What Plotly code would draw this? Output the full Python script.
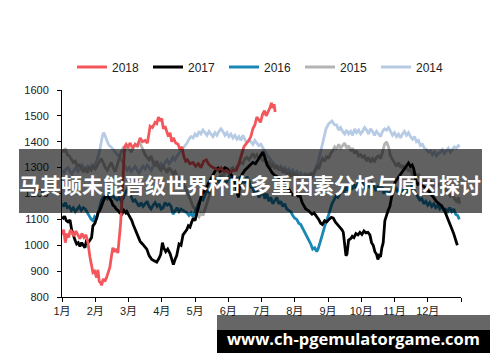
import plotly.graph_objects as go

# ---------------- data (month position, index value) ----------------
month_ticks = [1, 2, 3, 4, 5, 6, 7, 8, 9, 10, 11, 12, 13]
month_labels = ["1月", "2月", "3月", "4月", "5月", "6月", "7月", "8月", "9月", "10月", "11月", "12月", ""]

x2018 = [1.00,1.05,1.10,1.15,1.20,1.25,1.30,1.36,1.42,1.48,1.54,1.60,1.66,1.72,1.78,1.84,1.89,1.93,1.98,2.04,2.08,2.12,2.16,2.19,2.24,2.29,2.34,2.39,2.44,2.49,2.53,2.58,2.63,2.68,2.72,2.76,2.80,2.84,2.88,2.93,2.98,3.05,3.12,3.20,3.27,3.35,3.42,3.50,3.57,3.65,3.72,3.80,3.85,3.90,3.95,4.00,4.05,4.10,4.15,4.20,4.25,4.30,4.35,4.42,4.49,4.55,4.61,4.66,4.72,4.77,4.85,4.94,5.02,5.10,5.18,5.26,5.34,5.40,5.48,5.55,5.62,5.70,5.78,5.86,5.95,6.05,6.15,6.25,6.33,6.40,6.47,6.55,6.62,6.68,6.74,6.80,6.86,6.92,6.97,7.03,7.09,7.14,7.20,7.25,7.30,7.34,7.38,7.41]
y2018 = [1040,1060,1010,1045,1030,1060,1050,1035,1055,1040,1025,1045,1030,1040,1010,955,920,895,900,875,905,860,855,845,870,860,875,900,915,960,990,975,985,970,1020,1080,1165,1280,1380,1390,1380,1395,1375,1390,1385,1415,1400,1405,1395,1460,1455,1475,1470,1495,1480,1490,1450,1460,1440,1420,1435,1400,1415,1395,1390,1370,1380,1345,1325,1330,1315,1320,1305,1315,1300,1325,1330,1315,1305,1300,1295,1290,1300,1285,1290,1280,1290,1290,1320,1350,1380,1395,1405,1420,1450,1465,1495,1485,1475,1505,1520,1500,1515,1530,1550,1530,1545,1515]

x2017 = [1.00,1.04,1.08,1.13,1.18,1.24,1.29,1.34,1.39,1.44,1.49,1.54,1.59,1.64,1.69,1.73,1.78,1.84,1.89,1.93,1.99,2.04,2.08,2.14,2.19,2.24,2.29,2.34,2.40,2.44,2.49,2.53,2.58,2.63,2.68,2.74,2.80,2.86,2.92,2.95,3.00,3.05,3.10,3.14,3.20,3.27,3.35,3.42,3.48,3.55,3.62,3.70,3.77,3.85,3.92,3.97,4.02,4.06,4.12,4.18,4.25,4.30,4.35,4.40,4.45,4.52,4.58,4.64,4.70,4.75,4.80,4.85,4.90,4.95,5.00,5.05,5.10,5.15,5.20,5.25,5.32,5.39,5.45,5.50,5.55,5.62,5.69,5.75,5.82,5.90,5.97,6.05,6.12,6.20,6.27,6.31,6.35,6.42,6.50,6.58,6.66,6.74,6.82,6.90,6.98,7.04,7.10,7.17,7.25,7.32,7.40,7.48,7.56,7.62,7.70,7.76,7.83,7.90,7.95,8.02,8.10,8.16,8.22,8.28,8.33,8.40,8.46,8.52,8.58,8.66,8.72,8.78,8.83,8.90,8.96,9.03,9.10,9.16,9.22,9.30,9.36,9.42,9.46,9.50,9.54,9.57,9.62,9.68,9.73,9.78,9.84,9.90,9.96,10.02,10.08,10.14,10.20,10.26,10.31,10.36,10.41,10.46,10.50,10.54,10.58,10.62,10.66,10.71,10.76,10.81,10.86,10.92,10.97,11.02,11.10,11.17,11.25,11.32,11.38,11.42,11.48,11.53,11.58,11.64,11.70,11.76,11.82,11.90,11.97,12.05,12.12,12.20,12.27,12.35,12.42,12.50,12.57,12.64,12.72,12.78,12.82,12.86,12.89]
y2017 = [1110,1105,1112,1095,1090,1098,1060,1035,1020,1005,1010,995,1010,1000,990,1015,1010,1020,1030,1075,1085,1105,1125,1135,1155,1170,1185,1195,1185,1180,1170,1155,1150,1140,1135,1125,1120,1135,1125,1130,1120,1105,1095,1080,1060,1040,1015,1005,995,985,960,945,940,935,950,965,1010,990,975,985,968,950,925,945,960,1005,1000,1040,1050,1060,1075,1070,1090,1105,1095,1120,1150,1165,1195,1205,1215,1235,1250,1260,1272,1290,1298,1285,1290,1300,1295,1280,1270,1250,1200,1185,1250,1275,1290,1300,1310,1320,1315,1330,1345,1360,1340,1310,1295,1280,1270,1265,1255,1250,1240,1230,1215,1200,1195,1200,1190,1192,1165,1150,1140,1135,1128,1120,1125,1112,1100,1085,1080,1095,1090,1100,1108,1105,1090,1078,1070,1060,1050,1000,960,965,1020,1025,1035,1030,1045,1040,1050,1042,1055,1048,1050,1040,1010,1000,975,965,945,960,955,990,1010,1095,1120,1135,1150,1195,1225,1245,1260,1270,1285,1300,1310,1318,1305,1310,1295,1250,1235,1240,1232,1225,1218,1205,1195,1180,1168,1160,1152,1135,1115,1090,1065,1045,1025,1010,1000]

x2016 = [1.00,1.05,1.10,1.16,1.22,1.28,1.34,1.40,1.46,1.52,1.58,1.64,1.70,1.76,1.82,1.88,1.93,1.98,2.04,2.09,2.14,2.19,2.24,2.30,2.36,2.42,2.48,2.54,2.60,2.66,2.72,2.78,2.84,2.90,2.96,3.02,3.08,3.14,3.20,3.26,3.32,3.38,3.44,3.50,3.56,3.62,3.68,3.74,3.80,3.86,3.92,3.98,4.04,4.10,4.16,4.22,4.28,4.34,4.40,4.46,4.52,4.58,4.64,4.70,4.76,4.82,4.88,4.94,5.00,5.06,5.12,5.18,5.24,5.30,5.36,5.42,5.48,5.54,5.60,5.66,5.72,5.78,5.84,5.90,5.96,6.02,6.08,6.14,6.20,6.26,6.32,6.38,6.44,6.50,6.56,6.62,6.68,6.74,6.80,6.86,6.92,6.98,7.04,7.10,7.16,7.22,7.28,7.34,7.40,7.46,7.52,7.58,7.64,7.70,7.76,7.82,7.88,7.94,8.00,8.06,8.12,8.18,8.24,8.30,8.36,8.42,8.48,8.54,8.60,8.66,8.70,8.76,8.82,8.88,8.94,9.00,9.06,9.12,9.18,9.24,9.30,9.36,9.42,9.48,9.54,9.60,9.66,9.72,9.78,9.84,9.90,9.96,10.02,10.08,10.14,10.20,10.26,10.32,10.38,10.44,10.50,10.56,10.62,10.68,10.74,10.80,10.86,10.92,10.98,11.04,11.10,11.16,11.22,11.28,11.34,11.40,11.46,11.52,11.58,11.64,11.70,11.76,11.82,11.88,11.94,12.00,12.06,12.12,12.18,12.24,12.30,12.36,12.42,12.48,12.54,12.60,12.66,12.72,12.78,12.84,12.90,12.95]
y2016 = [1160,1150,1165,1145,1150,1135,1145,1130,1140,1150,1135,1145,1140,1125,1110,1100,1095,1110,1100,1130,1150,1175,1185,1190,1180,1195,1185,1190,1180,1175,1185,1170,1180,1200,1215,1205,1185,1170,1175,1160,1150,1165,1150,1160,1170,1150,1140,1155,1165,1150,1160,1140,1145,1165,1155,1160,1150,1120,1135,1145,1130,1140,1135,1130,1125,1115,1125,1110,1130,1150,1165,1180,1175,1195,1210,1205,1225,1235,1230,1250,1245,1260,1255,1240,1245,1265,1260,1250,1270,1255,1260,1235,1250,1240,1265,1250,1225,1220,1200,1210,1185,1195,1210,1180,1200,1170,1185,1160,1175,1185,1160,1170,1150,1160,1140,1135,1130,1115,1105,1100,1085,1080,1065,1050,1040,1020,1005,985,990,975,985,1010,1040,1065,1090,1110,1140,1160,1175,1190,1185,1200,1215,1205,1225,1210,1230,1215,1235,1220,1240,1225,1245,1230,1215,1235,1225,1240,1230,1210,1230,1215,1225,1200,1215,1195,1205,1190,1210,1225,1205,1215,1195,1215,1200,1220,1205,1230,1215,1200,1185,1175,1180,1160,1170,1155,1165,1150,1160,1145,1155,1140,1150,1135,1140,1130,1145,1130,1140,1120,1115,1100]

x2015 = [1.00,1.05,1.10,1.16,1.22,1.28,1.34,1.40,1.46,1.52,1.58,1.64,1.70,1.76,1.82,1.88,1.94,2.00,2.06,2.12,2.18,2.24,2.30,2.36,2.42,2.48,2.54,2.60,2.66,2.72,2.78,2.84,2.90,2.96,3.02,3.08,3.14,3.20,3.26,3.32,3.38,3.44,3.50,3.56,3.62,3.68,3.74,3.80,3.86,3.92,3.98,4.04,4.10,4.16,4.22,4.28,4.34,4.40,4.46,4.52,4.58,4.64,4.70,4.76,4.82,4.88,4.94,5.00,5.06,5.12,5.18,5.24,5.30,5.36,5.42,5.48,5.54,5.60,5.66,5.72,5.78,5.84,5.90,5.96,6.02,6.08,6.14,6.20,6.26,6.32,6.38,6.44,6.50,6.56,6.62,6.68,6.74,6.80,6.86,6.92,6.98,7.04,7.10,7.16,7.22,7.28,7.34,7.40,7.46,7.52,7.58,7.64,7.70,7.76,7.82,7.88,7.94,8.00,8.06,8.12,8.18,8.24,8.30,8.36,8.42,8.48,8.54,8.60,8.66,8.72,8.78,8.84,8.90,8.96,9.02,9.08,9.14,9.20,9.26,9.32,9.38,9.44,9.50,9.56,9.62,9.68,9.74,9.80,9.86,9.92,9.98,10.04,10.10,10.16,10.22,10.28,10.34,10.40,10.46,10.52,10.58,10.64,10.70,10.76,10.82,10.88,10.94,11.00,11.06,11.12,11.18,11.24,11.30,11.36,11.42,11.48,11.54,11.60,11.66,11.72,11.78,11.84,11.90,11.96,12.02,12.08,12.14,12.20,12.26,12.32,12.38,12.44,12.50,12.56,12.62,12.68,12.74,12.80,12.86,12.92,12.96]
y2015 = [1370,1360,1375,1350,1345,1330,1320,1325,1305,1310,1300,1285,1295,1280,1300,1290,1305,1295,1310,1320,1335,1320,1300,1290,1305,1320,1300,1285,1310,1335,1360,1375,1365,1385,1370,1360,1375,1390,1380,1400,1385,1365,1350,1340,1330,1345,1320,1310,1325,1300,1290,1305,1295,1280,1300,1290,1275,1285,1270,1250,1265,1240,1225,1210,1190,1170,1150,1140,1120,1110,1125,1115,1140,1165,1190,1210,1230,1245,1260,1255,1275,1265,1280,1290,1275,1295,1300,1285,1305,1310,1320,1315,1335,1340,1330,1345,1355,1340,1350,1335,1345,1325,1335,1310,1325,1300,1315,1295,1310,1290,1300,1280,1295,1270,1285,1265,1280,1260,1275,1255,1270,1250,1265,1275,1260,1280,1270,1290,1305,1295,1320,1335,1325,1345,1335,1355,1365,1380,1370,1390,1375,1385,1395,1375,1385,1365,1375,1355,1365,1345,1350,1340,1345,1325,1340,1320,1335,1325,1340,1345,1335,1360,1390,1400,1380,1345,1330,1320,1305,1320,1300,1310,1290,1305,1285,1295,1270,1285,1265,1275,1255,1265,1245,1255,1240,1250,1230,1245,1225,1240,1220,1230,1210,1220,1200,1190,1205,1180,1170,1185,1160,1170]

x2014 = [1.00,1.06,1.12,1.18,1.24,1.30,1.36,1.42,1.48,1.54,1.60,1.66,1.72,1.78,1.84,1.90,1.96,2.02,2.08,2.14,2.18,2.22,2.26,2.30,2.34,2.38,2.42,2.48,2.54,2.60,2.66,2.72,2.78,2.84,2.90,2.96,3.02,3.08,3.14,3.20,3.26,3.32,3.38,3.44,3.50,3.56,3.62,3.68,3.74,3.80,3.86,3.92,3.98,4.04,4.10,4.16,4.22,4.28,4.34,4.40,4.46,4.52,4.58,4.64,4.70,4.76,4.82,4.88,4.94,5.00,5.06,5.12,5.18,5.24,5.30,5.36,5.42,5.48,5.54,5.60,5.66,5.72,5.78,5.84,5.90,5.96,6.02,6.08,6.14,6.20,6.26,6.32,6.38,6.44,6.50,6.56,6.62,6.68,6.74,6.80,6.86,6.92,6.98,7.04,7.10,7.16,7.22,7.28,7.34,7.40,7.46,7.52,7.58,7.64,7.70,7.76,7.82,7.88,7.94,8.00,8.06,8.12,8.18,8.24,8.30,8.36,8.42,8.48,8.54,8.60,8.66,8.72,8.80,8.86,8.94,9.02,9.12,9.20,9.26,9.32,9.38,9.44,9.50,9.56,9.62,9.68,9.74,9.80,9.86,9.92,9.98,10.04,10.10,10.16,10.22,10.28,10.34,10.40,10.46,10.52,10.58,10.64,10.70,10.76,10.82,10.88,10.94,11.00,11.06,11.12,11.18,11.24,11.30,11.36,11.42,11.48,11.54,11.60,11.66,11.72,11.78,11.84,11.90,11.96,12.02,12.08,12.14,12.20,12.26,12.32,12.38,12.44,12.50,12.56,12.62,12.68,12.74,12.80,12.86,12.92,12.96]
y2014 = [1290,1280,1295,1300,1285,1275,1290,1300,1285,1295,1310,1300,1290,1305,1295,1310,1300,1320,1340,1370,1400,1425,1435,1420,1405,1395,1385,1380,1370,1360,1350,1345,1330,1315,1300,1290,1300,1285,1295,1305,1290,1280,1295,1305,1295,1310,1300,1290,1305,1320,1310,1300,1315,1305,1320,1330,1315,1325,1340,1330,1345,1355,1365,1375,1385,1395,1410,1420,1415,1430,1420,1440,1430,1445,1435,1425,1440,1430,1420,1435,1425,1440,1450,1440,1425,1435,1420,1430,1415,1425,1410,1420,1405,1425,1410,1395,1405,1400,1390,1405,1395,1385,1390,1375,1365,1350,1340,1330,1320,1310,1300,1295,1305,1290,1300,1285,1295,1280,1290,1275,1285,1270,1280,1265,1275,1260,1270,1255,1265,1280,1300,1330,1370,1410,1450,1470,1480,1465,1465,1445,1455,1440,1430,1445,1430,1440,1425,1450,1435,1445,1430,1440,1455,1445,1430,1450,1440,1425,1440,1430,1420,1440,1450,1445,1455,1440,1425,1435,1420,1430,1415,1430,1440,1425,1435,1420,1410,1420,1400,1405,1385,1390,1375,1370,1360,1365,1350,1360,1345,1355,1360,1370,1355,1365,1375,1360,1370,1380,1375,1385,1380]

series = [
    ("2014", x2014, y2014, "#B7CBE5"),
    ("2015", x2015, y2015, "#B3B3B3"),
    ("2016", x2016, y2016, "#1A87B5"),
    ("2017", x2017, y2017, "#000000"),
    ("2018", x2018, y2018, "#F4575B"),
]

# ---------------- layout geometry (pixels of the 500x362 page) ----------------
W, H = 500, 362
L, R, T, B = 62, 461, 90, 297


def px(xp):
    return (xp - L) / (R - L)


def py(yp):
    return (B - yp) / (B - T)


fig = go.Figure()
for name, xs, ys, col in series:
    fig.add_trace(go.Scatter(x=xs, y=ys, mode="lines", name=name,
                             line=dict(color=col, width=2.8)))

tick_font = dict(family="Liberation Sans, Noto Sans CJK SC", size=11, color="#222222")

fig.update_layout(
    width=W, height=H,
    margin=dict(l=L, r=W - R, t=T, b=H - B, pad=0, autoexpand=False),
    paper_bgcolor="white", plot_bgcolor="white",
    showlegend=True,
    legend=dict(orientation="h", x=px(72), xanchor="left", y=py(67), yanchor="middle",
                traceorder="reversed", font=dict(family="Liberation Sans", size=12, color="#222222"),
                bgcolor="rgba(0,0,0,0)", itemwidth=30, entrywidth=31, entrywidthmode="pixels"),
    xaxis=dict(range=[1, 13], tickmode="array", tickvals=month_ticks, ticktext=month_labels,
               showgrid=False, zeroline=False, showline=True, linecolor="black", linewidth=1,
               ticks="outside", ticklen=4, tickcolor="black", tickfont=tick_font),
    yaxis=dict(range=[800, 1600], dtick=100, tick0=800,
               showgrid=False, zeroline=False, showline=True, linecolor="black", linewidth=1,
               ticks="outside", ticklen=4, tickcolor="black", tickfont=tick_font,
               ticklabelstandoff=6),
)

# translucent title band
fig.add_shape(type="rect", xref="paper", yref="paper", layer="above",
              x0=px(19), x1=px(482), y0=py(213), y1=py(149),
              fillcolor="rgba(0,0,0,0.62)", line=dict(width=0))
fig.add_annotation(xref="paper", yref="paper", x=px(250), y=py(184), xanchor="center", yanchor="middle",
                   text="<b>马其顿未能晋级世界杯的多重因素分析与原因探讨</b>", showarrow=False,
                   font=dict(family="Noto Sans CJK SC", size=21, color="white"))

# watermark box
fig.add_shape(type="rect", xref="paper", yref="paper", layer="above",
              x0=px(217), x1=px(490), y0=py(330), y1=py(315),
              fillcolor="rgba(0,0,0,0.6)", line=dict(width=0))
fig.add_shape(type="rect", xref="paper", yref="paper", layer="above",
              x0=px(217), x1=px(490), y0=py(353), y1=py(330),
              fillcolor="black", line=dict(width=0))
fig.add_annotation(xref="paper", yref="paper", x=px(353), y=py(338), xanchor="center", yanchor="middle",
                   text="<b>www.ch-pgemulatorgame.com</b>", showarrow=False,
                   font=dict(family="Open Sans", size=16.5, color="white"))

fig.write_html("out.html", config={"displayModeBar": False},
               post_script="document.body.style.margin='0px';")
